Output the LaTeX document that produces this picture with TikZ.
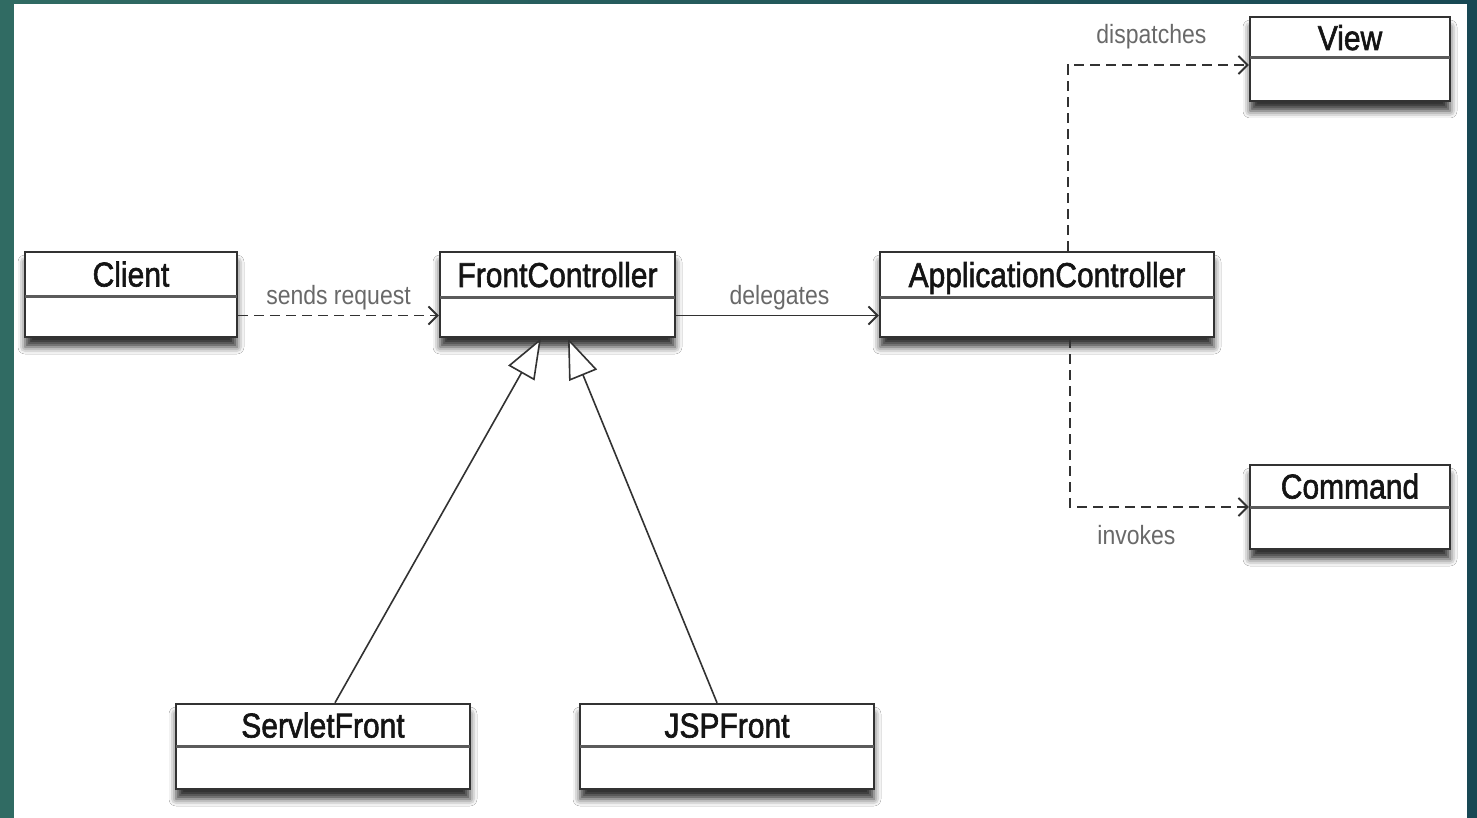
\documentclass[tikz,border=0pt]{standalone}
\usepackage{graphicx}
\usepackage{fontspec}
\setmainfont{Liberation Sans}
\newfontfamily\clsfont[FakeBold=1.8]{Liberation Sans}
\usetikzlibrary{arrows.meta,shadows.blur}
\definecolor{tealL}{RGB}{48,107,99}
\definecolor{tealR}{RGB}{24,72,84}
\definecolor{linec}{RGB}{50,50,50}
\definecolor{labc}{RGB}{105,105,105}
\tikzset{
  classbox/.style={draw=linec, line width=2.5pt, fill=white, inner sep=0pt,
    blur shadow={shadow xshift=0pt, shadow yshift=-10pt, shadow blur radius=7pt, shadow opacity=80}},
  divider/.style={draw=linec!80, line width=3pt},
  clstitle/.style={font=\clsfont\fontsize{30}{34}\selectfont, text=black!92, inner sep=0pt, anchor=base},
  conlabel/.style={font=\fontsize{23}{26}\selectfont, text=labc, inner sep=0pt},
  dep/.style={draw=linec, line width=1.8pt, dash pattern=on 10pt off 6pt,
    -{Straight Barb[length=9pt,width=18pt,line width=1.8pt]}},
  assoc/.style={draw=linec, line width=1.8pt,
    -{Straight Barb[length=9pt,width=18pt,line width=1.8pt]}},
  gen/.style={draw=linec, line width=1.6pt,
    -{Triangle[open,length=40pt,width=30pt,fill=white,line width=1.6pt]}}
}
\newcommand\umlclass[7]{%
  \node[classbox, minimum width={(#4-#2)*1pt}, minimum height={(#5-#3)*1pt}] (#1) at ({(#2+#4)/2},{(#3+#5)/2}) {};
  \draw[divider] (#2,#6) -- (#4,#6);
  \node[clstitle] (#1-t) at ({(#2+#4)/2},{(#3+#6)/2+12.5}) {\scalebox{1}[1.15]{#7}};
}
\begin{document}
\begin{tikzpicture}[x=1pt,y=-1pt]
  \useasboundingbox (0,0) rectangle (1477,818);
  \shade[left color=tealL, right color=tealR] (0,0) rectangle (1477,818);
  \fill[white] (14,4) rectangle (1467,818);

  \umlclass{client}{25}{252}{237}{337}{296}{Client}
  \umlclass{fc}{440}{252}{675}{337}{297}{FrontController}
  \umlclass{ac}{880}{252}{1214}{337}{297}{ApplicationController}
  \umlclass{view}{1250}{17}{1450}{101}{58}{View}
  \umlclass{cmd}{1250}{465}{1450}{549}{507}{Command}
  \umlclass{servlet}{176}{704}{470}{789}{746}{ServletFront}
  \umlclass{jsp}{580}{704}{874}{789}{746}{JSPFront}

  \draw[dep] ([yshift=-21pt]client.east) -- ([yshift=-21pt]fc.west)
    node[conlabel, midway, yshift=18pt] (l1) {\scalebox{1}[1.15]{sends request}};
  \draw[assoc] ([yshift=-21pt]fc.east) -- ([yshift=-21pt]ac.west)
    node[conlabel, midway, yshift=18pt, xshift=2pt] (l2) {\scalebox{1}[1.15]{delegates}};
  \draw[dep] ([xshift=21pt]ac.north) |- ([yshift=-6pt]view.west)
    node[conlabel, pos=0.75, yshift=28pt, xshift=-7pt] (l3) {\scalebox{1}[1.15]{dispatches}};
  \draw[dep] ([xshift=23pt]ac.south) |- (cmd.west)
    node[conlabel, pos=0.75, yshift=-28pt, xshift=-23pt] (l4) {\scalebox{1}[1.15]{invokes}};

  \draw[gen] ([xshift=12pt]servlet.north) -- ([xshift=-16.5pt]fc.south);
  \draw[gen] ([xshift=-10pt]jsp.north) -- ([xshift=10.5pt]fc.south);
\end{tikzpicture}
\end{document}
